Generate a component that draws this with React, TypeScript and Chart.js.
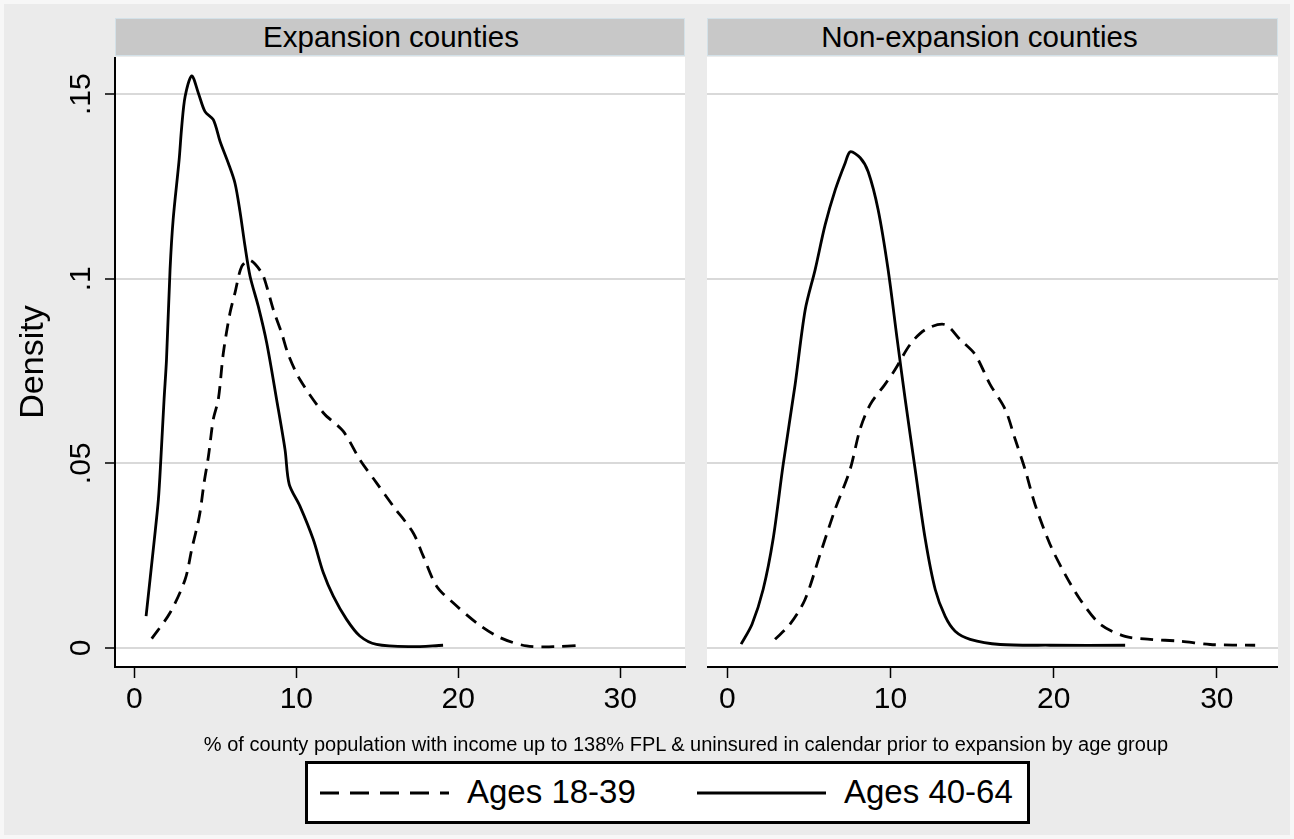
import React, { useEffect, useRef } from "react";
import { Chart, registerables } from "chart.js";

Chart.register(...registerables);

// ---------- data ----------
const panelTitles = ["Expansion counties", "Non-expansion counties"];
const seriesLabels = ["Ages 18-39", "Ages 40-64"];
const xTickValues = [0, 10, 20, 30];
const yTickValues = [0, 0.05, 0.1, 0.15];
const yTickLabels = ["0", ".05", ".1", ".15"];
const xAxisTitle =
  "% of county population with income up to 138% FPL & uninsured in calendar prior to expansion by age group";
const yAxisTitle = "Density";
const leftXRange = [-1.2, 34.0];
const rightXRange = [-1.25, 33.75];
const yRange = [-0.0052, 0.1601];

// Expansion counties, ages 18-39 (dashed)
const expYoungX = [1.07, 2.2, 3.13, 3.54, 4.01, 4.3, 4.57, 4.87, 5.18, 5.49, 5.9, 6.21, 6.63, 7.14, 7.86, 8.17, 8.58, 9.09, 9.5, 10.22, 11.66, 12.89, 13.92, 14.95, 15.98, 17.21, 17.83, 18.66, 19.68, 21.12, 22.56, 24.21, 25.85, 27.6];
const expYoungY = [0.0025, 0.0095, 0.0185, 0.0267, 0.0357, 0.0447, 0.0519, 0.0619, 0.0673, 0.0799, 0.0907, 0.0962, 0.1034, 0.105, 0.1016, 0.0979, 0.0916, 0.0853, 0.0795, 0.0727, 0.0637, 0.0587, 0.051, 0.0447, 0.0384, 0.0312, 0.0249, 0.0167, 0.0122, 0.0068, 0.0028, 0.0005, 0.0003, 0.0007];

// Expansion counties, ages 40-64 (solid)
const expOldX = [0.72, 1.23, 1.48, 1.63, 1.83, 1.98, 2.2, 2.39, 2.76, 2.92, 3.13, 3.54, 3.95, 4.36, 4.87, 5.29, 5.8, 6.21, 6.52, 6.83, 7.14, 7.65, 8.17, 8.78, 9.3, 9.56, 10.22, 11.04, 11.66, 12.28, 13.1, 13.92, 14.95, 17.01, 19.06];
const expOldY = [0.0086, 0.0294, 0.0402, 0.051, 0.0673, 0.0781, 0.1025, 0.116, 0.1322, 0.1412, 0.1494, 0.155, 0.1503, 0.1453, 0.1431, 0.1372, 0.1313, 0.1259, 0.1182, 0.1088, 0.1007, 0.0925, 0.0826, 0.0673, 0.0537, 0.0443, 0.0384, 0.0294, 0.0204, 0.014, 0.0077, 0.0032, 0.0009, 0.0003, 0.0007];

// Non-expansion counties, ages 18-39 (dashed)
const nonYoungX = [2.92, 3.84, 4.76, 5.68, 6.6, 7.52, 8.13, 8.75, 9.66, 10.28, 11.2, 12.12, 13.33, 14.27, 15.18, 16.1, 17.03, 17.64, 18.25, 18.86, 19.78, 20.7, 21.62, 22.85, 24.38, 25.91, 27.75, 29.59, 32.35];
const nonYoungY = [0.0023, 0.0064, 0.0131, 0.0253, 0.0375, 0.0483, 0.0592, 0.0659, 0.0714, 0.0754, 0.0822, 0.0862, 0.0876, 0.0835, 0.0795, 0.0714, 0.0646, 0.0565, 0.0483, 0.0388, 0.028, 0.0199, 0.0131, 0.0064, 0.0031, 0.0023, 0.0018, 0.0009, 0.0007];

// Non-expansion counties, ages 40-64 (solid)
const nonOldX = [0.84, 1.51, 2.19, 2.8, 3.42, 4.15, 4.77, 5.38, 5.99, 6.61, 7.22, 7.53, 8.14, 8.63, 9.24, 9.85, 10.41, 10.9, 11.51, 12.13, 12.74, 13.35, 13.96, 14.88, 16.72, 19.78, 24.38];
const nonOldY = [0.001, 0.0064, 0.0158, 0.0294, 0.0497, 0.0713, 0.0916, 0.1025, 0.1146, 0.1241, 0.1314, 0.1344, 0.1328, 0.129, 0.1187, 0.1025, 0.0835, 0.0673, 0.0483, 0.0294, 0.0158, 0.0085, 0.0045, 0.0023, 0.0009, 0.0007, 0.0007];

const FONT = '"Liberation Sans", Arial, sans-serif';
const BG = "#ebebeb";
const CANVAS_H = 680;

function pts(xs: number[], ys: number[]) {
  return xs.map((x, i) => ({ x, y: ys[i] }));
}

const whiteArea = {
  id: "whiteArea",
  beforeDraw(chart: any) {
    const { ctx, chartArea } = chart;
    ctx.save();
    ctx.fillStyle = "#ffffff";
    ctx.fillRect(chartArea.left, chartArea.top, chartArea.right - chartArea.left, chartArea.bottom - chartArea.top);
    ctx.restore();
  },
};

// rotated y tick labels and y title (Stata style, reading bottom-to-top)
const rotatedYText = {
  id: "rotatedYText",
  afterDraw(chart: any, _args: any, opts: any) {
    if (!opts || !opts.show) return;
    const y = chart.scales.y;
    const { ctx, chartArea } = chart;
    ctx.save();
    ctx.fillStyle = "#000";
    ctx.textAlign = "center";
    ctx.textBaseline = "alphabetic";
    ctx.font = `30px ${FONT}`;
    yTickValues.forEach((v, i) => {
      const py = y.getPixelForValue(v);
      ctx.save();
      ctx.translate(y.right - 25, py);
      ctx.rotate(-Math.PI / 2);
      ctx.fillText(yTickLabels[i], 0, 0);
      ctx.restore();
    });
    ctx.font = `34px ${FONT}`;
    ctx.save();
    ctx.translate(43, (chartArea.top + chartArea.bottom) / 2);
    ctx.rotate(-Math.PI / 2);
    ctx.fillText(yAxisTitle, 0, 0);
    ctx.restore();
    ctx.restore();
  },
};

function makeConfig(young: any[], old: any[], xRange: number[], left: boolean): any {
  return {
    type: "line",
    data: {
      datasets: [
        {
          label: seriesLabels[0],
          data: young,
          borderColor: "#000",
          borderWidth: 2.8,
          borderDash: [13, 8],
          pointRadius: 0,
          fill: false,
          tension: 0.3,
        },
        {
          label: seriesLabels[1],
          data: old,
          borderColor: "#000",
          borderWidth: 2.8,
          pointRadius: 0,
          fill: false,
          tension: 0.3,
        },
      ],
    },
    options: {
      responsive: false,
      animation: false,
      events: [],
      layout: { padding: { left: 0, right: left ? 5 : 0, top: 0, bottom: 0 } },
      plugins: {
        legend: { display: false },
        tooltip: { enabled: false },
        rotatedYText: { show: left },
      },
      scales: {
        x: {
          type: "linear",
          min: xRange[0],
          max: xRange[1],
          afterBuildTicks: (s: any) => {
            s.ticks = xTickValues.map((v) => ({ value: v }));
          },
          afterFit: (s: any) => {
            s.height = 70;
          },
          grid: {
            drawOnChartArea: false,
            drawTicks: true,
            tickLength: 11,
            tickColor: "#000",
            tickWidth: 1.5,
          },
          border: { display: true, color: "#000", width: 2 },
          ticks: {
            color: "#000",
            font: { family: FONT, size: 30 },
            padding: 4,
            maxRotation: 0,
            autoSkip: false,
          },
        },
        y: {
          type: "linear",
          min: yRange[0],
          max: yRange[1],
          afterBuildTicks: (s: any) => {
            s.ticks = yTickValues.map((v) => ({ value: v }));
          },
          afterFit: (s: any) => {
            s.width = left ? 115 : 0;
          },
          grid: {
            color: "#d9d9d9",
            lineWidth: 2,
            drawTicks: left,
            tickLength: 10,
            tickColor: "#000",
            tickWidth: 1.5,
          },
          border: { display: left, color: "#000", width: 2 },
          ticks: {
            display: false,
            font: { size: 1 },
            padding: 0,
          },
          title: { display: false },
        },
      },
    },
    plugins: [whiteArea, rotatedYText],
  };
}

function Panel(props: { left: number; width: number; young: any[]; old: any[]; xRange: number[]; isLeft: boolean }) {
  const ref = useRef<HTMLCanvasElement | null>(null);
  useEffect(() => {
    if (!ref.current) return;
    const chart = new Chart(ref.current, makeConfig(props.young, props.old, props.xRange, props.isLeft));
    return () => chart.destroy();
  }, []);
  return (
    <canvas
      ref={ref}
      width={props.width}
      height={CANVAS_H}
      style={{ position: "absolute", left: props.left, top: 57, width: props.width, height: CANVAS_H }}
    />
  );
}

function Header(props: { left: number; width: number; text: string; shift: number }) {
  return (
    <div
      style={{
        position: "absolute",
        left: props.left,
        top: 18,
        width: props.width,
        height: 38,
        boxSizing: "border-box",
        background: "#c8c8c8",
        border: "1px solid #d3e1e8",
        color: "#000",
        font: `29.5px ${FONT}`,
        lineHeight: "36px",
        textAlign: "center",
        paddingRight: props.shift,
        whiteSpace: "nowrap",
      }}
    >
      {props.text}
    </div>
  );
}

export default function App() {
  useEffect(() => {
    document.body.style.margin = "0";
  }, []);
  return (
    <div style={{ position: "fixed", left: 0, top: 0, width: 1294, height: 839, background: "#f7f7f7", overflow: "hidden" }}>
      <div style={{ position: "absolute", left: 4, top: 4, width: 1286, height: 831, background: BG }} />
      <Header left={115} width={570} text={panelTitles[0]} shift={18} />
      <Header left={707} width={571} text={panelTitles[1]} shift={26} />
      <Panel left={0} width={690} young={pts(expYoungX, expYoungY)} old={pts(expOldX, expOldY)} xRange={leftXRange} isLeft={true} />
      <Panel left={707} width={571} young={pts(nonYoungX, nonYoungY)} old={pts(nonOldX, nonOldY)} xRange={rightXRange} isLeft={false} />
      <div
        style={{
          position: "absolute",
          left: 0,
          width: 1372,
          top: 733,
          textAlign: "center",
          font: `20px ${FONT}`,
          color: "#000",
          whiteSpace: "nowrap",
        }}
      >
        {xAxisTitle}
      </div>
      <div
        style={{
          position: "absolute",
          left: 305,
          top: 761,
          width: 725,
          height: 63,
          boxSizing: "border-box",
          border: "3px solid #000",
          background: "#fff",
        }}
      >
        <svg style={{ position: "absolute", left: 0, top: 0 }} width={719} height={57}>
          <line x1={12} y1={29} x2={141} y2={29} stroke="#000" strokeWidth={3} strokeDasharray="19 11" />
          <line x1={389} y1={29} x2={518} y2={29} stroke="#000" strokeWidth={3} />
        </svg>
        <span style={{ position: "absolute", left: 159, top: 9, font: `33px ${FONT}`, color: "#000", lineHeight: "38px", whiteSpace: "nowrap" }}>
          {seriesLabels[0]}
        </span>
        <span style={{ position: "absolute", left: 536, top: 9, font: `33px ${FONT}`, color: "#000", lineHeight: "38px", whiteSpace: "nowrap" }}>
          {seriesLabels[1]}
        </span>
      </div>
    </div>
  );
}
